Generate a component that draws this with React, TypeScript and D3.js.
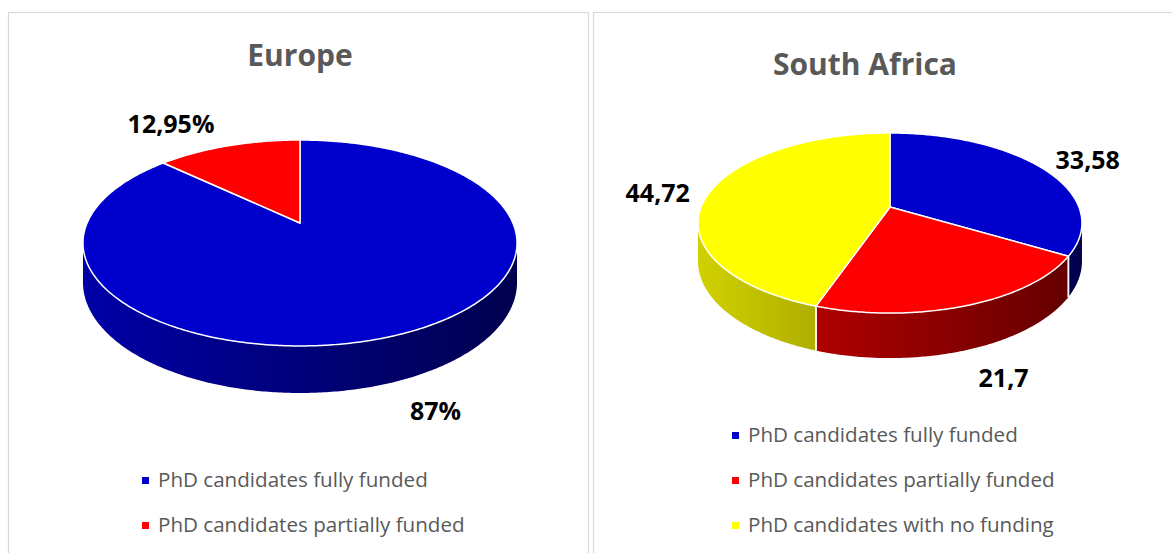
import React from 'react';
import * as d3 from 'd3';

const europeTitle = 'Europe';
const europeCategories = ['PhD candidates fully funded', 'PhD candidates partially funded'];
const europeValues = [87, 12.95];
const europeLabels = ['87%', '12,95%'];

const saTitle = 'South Africa';
const saCategories = [
  'PhD candidates fully funded',
  'PhD candidates partially funded',
  'PhD candidates with no funding',
];
const saValues = [33.58, 21.7, 44.72];
const saLabels = ['33,58', '21,7', '44,72'];

const sliceColors = ['#0000CC', '#FF0000', '#FFFF00'];

type Geo = { cx: number; cy: number; A: number; B: number; k: number; T: number };

function proj(g: Geo, th: number, r = 1): [number, number] {
  const X = r * Math.sin(th);
  const Z = -r * Math.cos(th);
  const den = 1 - g.k * Z;
  return [g.cx + (g.A * X) / den, g.cy + (g.B * Z) / den];
}
function thick(g: Geo, th: number) {
  return g.T / (1 + g.k * Math.cos(th));
}
function arcPts(g: Geo, a0: number, a1: number): [number, number][] {
  const n = Math.max(2, Math.ceil(Math.abs(a1 - a0) / 0.01));
  const pts: [number, number][] = [];
  for (let i = 0; i <= n; i++) pts.push(proj(g, a0 + ((a1 - a0) * i) / n));
  return pts;
}
function shade(base: string, f: number) {
  const c = d3.rgb(base);
  return d3.rgb(c.r * f, c.g * f, c.b * f).formatHex();
}

type PieProps = {
  id: string;
  title: string;
  titleX: number;
  titleY: number;
  categories: string[];
  values: number[];
  labels: string[];
  geo: Geo;
  labelNudge: [number, number][];
  legendX: number;
  legendY: number;
  legendStep: number;
};

function Pie3D(p: PieProps) {
  const g = p.geo;
  const arcs = d3.pie<number>().sort(null).value((d) => d)(p.values);
  const thR = Math.acos(-g.k);
  const visA = thR;
  const visB = 2 * Math.PI - thR;
  const W = g.A / Math.sqrt(1 - g.k * g.k);
  const fShade = (x: number) => {
    const t = (x - (g.cx - W)) / (2 * W);
    return 0.82 - 0.44 * t;
  };
  const line = d3.line();

  const sides: React.ReactNode[] = [];
  const grads: React.ReactNode[] = [];
  const dividers: React.ReactNode[] = [];
  arcs.forEach((a, i) => {
    const a0 = Math.max(a.startAngle, visA);
    const a1 = Math.min(a.endAngle, visB);
    if (a1 <= a0) return;
    const top = arcPts(g, a0, a1);
    const bottom = top
      .map((pt, j) => {
        const th = a0 + ((a1 - a0) * j) / (top.length - 1);
        return [pt[0], pt[1] + thick(g, th)] as [number, number];
      })
      .reverse();
    const pts = [...top, ...bottom];
    const xs = pts.map((q) => q[0]);
    const xmin = d3.min(xs)!;
    const xmax = d3.max(xs)!;
    const gid = `${p.id}-side-${i}`;
    const base = sliceColors[i];
    grads.push(
      <linearGradient key={gid} id={gid} gradientUnits="userSpaceOnUse" x1={xmin} x2={xmax} y1={0} y2={0}>
        <stop offset="0" stopColor={shade(base, fShade(xmin))} />
        <stop offset="1" stopColor={shade(base, fShade(xmax))} />
      </linearGradient>
    );
    sides.push(<path key={gid} d={line(pts)! + 'Z'} fill={`url(#${gid})`} />);
  });
  arcs.forEach((a, i) => {
    [a.startAngle, a.endAngle].forEach((th, j) => {
      const t = th % (2 * Math.PI);
      if (t > visA && t < visB) {
        const [x, y] = proj(g, t);
        dividers.push(
          <line key={`${p.id}-div-${i}-${j}`} x1={x} y1={y} x2={x} y2={y + thick(g, t)} stroke="#fff" strokeWidth={1.5} />
        );
      }
    });
  });

  const apex = proj(g, 0, 0);
  const tops = arcs.map((a, i) => {
    const pts = [apex, ...arcPts(g, a.startAngle, a.endAngle)];
    return (
      <path
        key={`${p.id}-top-${i}`}
        d={line(pts)! + 'Z'}
        fill={sliceColors[i]}
        stroke="#fff"
        strokeWidth={1.5}
        strokeLinejoin="round"
      />
    );
  });

  const labels = arcs.map((a, i) => {
    const mid = (a.startAngle + a.endAngle) / 2;
    const [x, y] = proj(g, mid, 1.3);
    const front = Math.max(0, -Math.cos(mid));
    const dy = 0.8 * thick(g, mid) * front;
    const [nx, ny] = p.labelNudge[i] || [0, 0];
    return (
      <text
        key={`${p.id}-lab-${i}`}
        x={x + nx}
        y={y + dy + ny}
        dy="0.36em"
        textAnchor="middle"
        fontFamily="'Open Sans', sans-serif"
        fontWeight={700}
        fontSize={25}
        fill="#000"
      >
        {p.labels[i]}
      </text>
    );
  });

  const legend = p.categories.map((c, i) => (
    <g key={`${p.id}-leg-${i}`} transform={`translate(${p.legendX},${p.legendY + i * p.legendStep})`}>
      <rect x={0} y={-10} width={7} height={7} fill={sliceColors[i]} />
      <text x={16} y={0} fontFamily="'Open Sans', sans-serif" fontSize={20.6} fill="#595959">
        {c}
      </text>
    </g>
  ));

  return (
    <g>
      <defs>{grads}</defs>
      <text
        x={p.titleX}
        y={p.titleY}
        textAnchor="middle"
        fontFamily="'Open Sans', sans-serif"
        fontWeight={700}
        fontSize={30}
        fill="#595959"
      >
        {p.title}
      </text>
      {sides}
      {dividers}
      {tops}
      {labels}
      {legend}
    </g>
  );
}

export default function App() {
  return (
    <svg
      width={1172}
      height={553}
      style={{ position: 'absolute', left: 0, top: 0, background: '#fff' }}
    >
      <rect x={0} y={0} width={1172} height={553} fill="#fff" />
      <rect x={8.5} y={12.5} width={580} height={600} fill="none" stroke="#d9d9d9" strokeWidth={1.2} />
      <rect x={593.5} y={12.5} width={620} height={600} fill="none" stroke="#d9d9d9" strokeWidth={1.2} />
      <Pie3D
        id="eu"
        title={europeTitle}
        titleX={300}
        titleY={66}
        categories={europeCategories}
        values={europeValues}
        labels={europeLabels}
        geo={{ cx: 300, cy: 223, A: 212.9, B: 99.1, k: 0.194, T: 37.9 }}
        labelNudge={[
          [-7, 0],
          [-40, -3],
        ]}
        legendX={142}
        legendY={487}
        legendStep={45}
      />
      <Pie3D
        id="sa"
        title={saTitle}
        titleX={865}
        titleY={75}
        categories={saCategories}
        values={saValues}
        labels={saLabels}
        geo={{ cx: 890, cy: 207, A: 188.9, B: 87.2, k: 0.178, T: 37 }}
        labelNudge={[
          [6, 3],
          [6, 2],
          [1, 4],
        ]}
        legendX={732}
        legendY={442}
        legendStep={45}
      />
    </svg>
  );
}
